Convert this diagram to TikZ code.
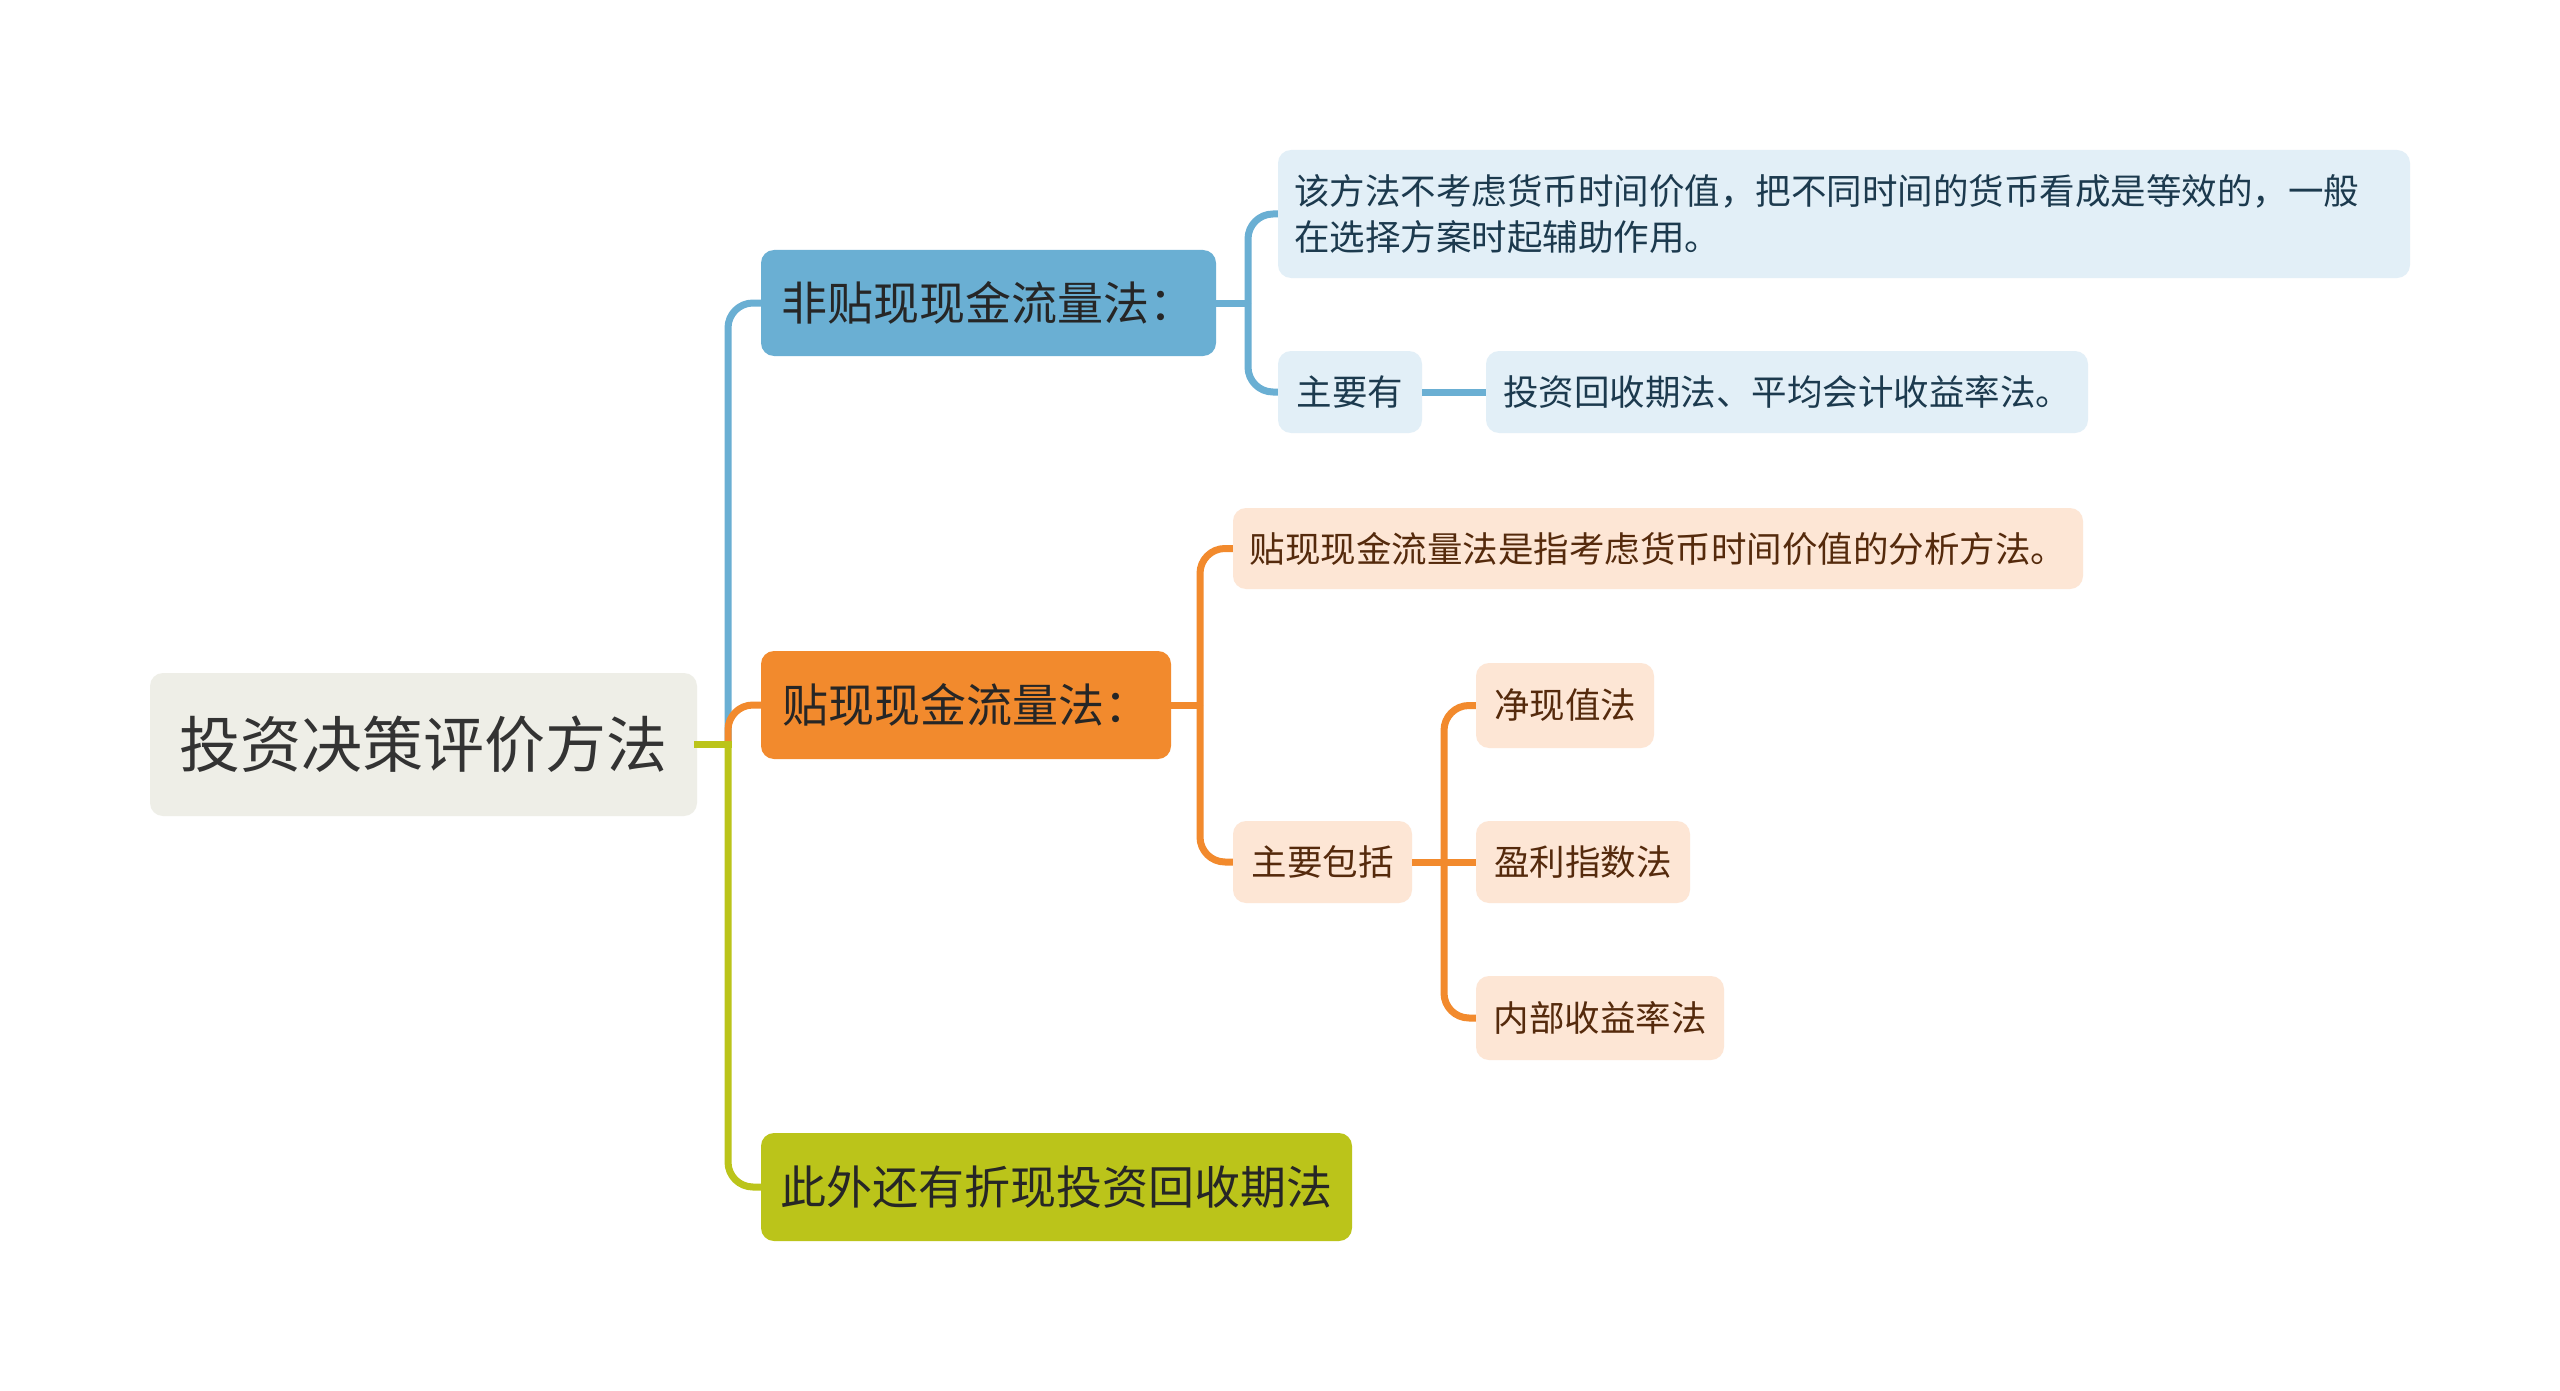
\documentclass[tikz,border=0pt]{standalone}
\usepackage{fontspec}
\setmainfont{Noto Sans CJK SC}
\definecolor{bmain}{HTML}{6AAFD3}
\definecolor{blight}{HTML}{E2EFF7}
\definecolor{btext}{HTML}{1C3A4E}
\definecolor{omain}{HTML}{F28A2D}
\definecolor{olight}{HTML}{FDE6D5}
\definecolor{otext}{HTML}{552A0C}
\definecolor{gmain}{HTML}{BBC41A}
\definecolor{rootfill}{HTML}{EEEEE7}
\definecolor{roottext}{HTML}{333333}
\tikzset{
  box/.style={rectangle, rounded corners=13pt, draw=none, inner sep=0pt, align=center},
  rootbox/.style={box, fill=rootfill, text=roottext, font=\fontsize{61}{68}\selectfont},
  bbig/.style={box, fill=bmain, text=black!85, font=\fontsize{46}{54}\selectfont},
  obig/.style={box, fill=omain, text=black!85, font=\fontsize{46}{54}\selectfont},
  gbig/.style={box, fill=gmain, text=black!85, font=\fontsize{46}{54}\selectfont},
  bsmall/.style={box, fill=blight, text=btext, font=\fontsize{35.5}{46}\selectfont},
  osmall/.style={box, fill=olight, text=otext, font=\fontsize{35.5}{46}\selectfont},
  link/.style={line width=7pt, rounded corners=25pt},
  bline/.style={link, draw=bmain},
  oline/.style={link, draw=omain},
  gline/.style={link, draw=gmain},
}
\begin{document}
\begin{tikzpicture}[x=1pt,y=-1pt]
\fill[white] (0,0) rectangle (2560,1391);
\useasboundingbox (0,0) rectangle (2560,1391);
% nodes
\node[rootbox, minimum width=547pt, minimum height=143pt] (root) at (423.5,744.5) {投资决策评价方法};
\node[bbig, minimum width=455pt, minimum height=106pt] (b1) at (988.5,303) {非贴现现金流量法：};
\node[obig, minimum width=410pt, minimum height=108pt] (o1) at (966,705) {贴现现金流量法：};
\node[gbig, minimum width=591pt, minimum height=108pt] (g1) at (1056.5,1187) {此外还有折现投资回收期法};
\node[bsmall, minimum width=1132pt, minimum height=128pt, text width=1100pt, align=left] (bd) at (1844,214)
  {该方法不考虑货币时间价值，把不同时间的货币看成是等效的，一般\\在选择方案时起辅助作用。};
\node[bsmall, minimum width=144pt, minimum height=82pt] (bz) at (1350,392) {主要有};
\node[bsmall, minimum width=602pt, minimum height=82pt] (bt) at (1787,392) {投资回收期法、平均会计收益率法。};
\node[osmall, minimum width=850pt, minimum height=81pt] (od) at (1658,548.5) {贴现现金流量法是指考虑货币时间价值的分析方法。};
\node[osmall, minimum width=179pt, minimum height=82pt] (oz) at (1322.5,862) {主要包括};
\node[osmall, minimum width=178pt, minimum height=85pt] (n1) at (1565,705.5) {净现值法};
\node[osmall, minimum width=214pt, minimum height=82pt] (n2) at (1583,862) {盈利指数法};
\node[osmall, minimum width=248pt, minimum height=84pt] (n3) at (1600,1018) {内部收益率法};
% junctions
\coordinate (j0) at (728,744.5);
\coordinate (j1) at (1248,303);
\coordinate (j2) at (1200,705);
\coordinate (j3) at (1444,862);
% level 1
\draw[bline] (j0) -- (j0 |- b1.west) -- (b1.west);
\draw[oline] (j0) -- (j0 |- o1.west) -- (o1.west);
\draw[gline] (j0) -- (j0 |- g1.west) -- (g1.west);
\draw[gline, line cap=rect] (root.east) -- (j0);
% blue branch
\draw[bline] (b1.east) -- (j1);
\draw[bline] (j1) -- (j1 |- bd.west) -- (bd.west);
\draw[bline] (j1) -- (j1 |- bz.west) -- (bz.west);
\draw[bline] (bz.east) -- (bt.west);
% orange branch
\draw[oline] (o1.east) -- (j2);
\draw[oline] (j2) -- (j2 |- od.west) -- (od.west);
\draw[oline] (j2) -- (j2 |- oz.west) -- (oz.west);
\draw[oline] (oz.east) -- (n2.west);
\draw[oline] (j3) -- (j3 |- n1.west) -- (n1.west);
\draw[oline] (j3) -- (j3 |- n3.west) -- (n3.west);
\end{tikzpicture}
\end{document}
